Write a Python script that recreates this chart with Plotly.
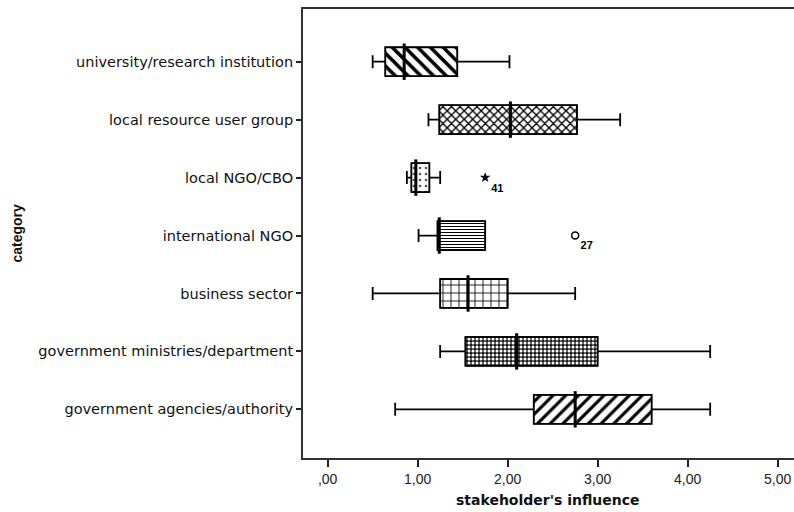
import plotly.graph_objects as go

# Categories from bottom to top
categories = [
    "government agencies/authority",
    "government ministries/department",
    "business sector",
    "international NGO",
    "local NGO/CBO",
    "local resource user group",
    "university/research institution",
]
lower_whisker = [0.75, 1.25, 0.50, 1.01, 0.88, 1.12, 0.50]
q1_values     = [2.29, 1.53, 1.25, 1.22, 0.93, 1.24, 0.64]
median_values = [2.75, 2.10, 1.56, 1.24, 0.98, 2.03, 0.85]
q3_values     = [3.60, 3.00, 2.00, 1.75, 1.13, 2.77, 1.44]
upper_whisker = [4.25, 4.25, 2.75, 1.75, 1.25, 3.25, 2.02]

# Outliers
star_outlier_cat = ["local NGO/CBO"]
star_outlier_val = [1.75]
star_outlier_lbl = ["41"]
circ_outlier_cat = ["international NGO"]
circ_outlier_val = [2.75]
circ_outlier_lbl = ["27"]

x_tick_vals = [0, 1, 2, 3, 4, 5]
x_tick_text = [",00", "1,00", "2,00", "3,00", "4,00", "5,00"]

# Fill patterns (style)
pat_shape = ["/", ".", "+", "-", ".", "x", "\\"]
pat_fg = ["black", "white", "black", "black", "#555555", "black", "black"]
pat_bg = ["white", "#1a1a1a", "white", "white", "white", "white", "white"]
pat_size = [9, 4, 8, 3, 6, 6, 9]
pat_sol = [0.35, 0.45, 0.2, 0.35, 0.15, 0.4, 0.4]

pos = list(range(len(categories)))
cat_index = {c: i for i, c in enumerate(categories)}

fig = go.Figure()

fig.add_trace(go.Bar(
    y=pos,
    x=[b - a for a, b in zip(q1_values, q3_values)],
    base=q1_values,
    orientation="h",
    width=0.5,
    marker=dict(
        color="white",
        line=dict(color="black", width=1),
        pattern=dict(shape=pat_shape, fgcolor=pat_fg, bgcolor=pat_bg,
                     size=pat_size, solidity=pat_sol, fillmode="replace"),
    ),
    hoverinfo="skip",
    showlegend=False,
))

fig.add_trace(go.Box(
    y=pos,
    q1=q1_values,
    median=median_values,
    q3=q3_values,
    lowerfence=lower_whisker,
    upperfence=upper_whisker,
    orientation="h",
    width=0.5,
    whiskerwidth=0.45,
    line=dict(color="black", width=1.8),
    fillcolor="rgba(0,0,0,0)",
    boxpoints=False,
    showlegend=False,
))

fig.add_trace(go.Scatter(
    x=median_values,
    y=pos,
    mode="markers",
    marker=dict(symbol="line-ns", size=26, line=dict(color="black", width=3)),
    hoverinfo="skip",
    showlegend=False,
))

fig.add_trace(go.Scatter(
    x=star_outlier_val,
    y=[cat_index[c] for c in star_outlier_cat],
    mode="markers+text",
    marker=dict(symbol="star", size=8, color="black"),
    text=star_outlier_lbl,
    textposition="bottom right",
    textfont=dict(family="Liberation Sans", size=11, color="black", weight="bold"),
    showlegend=False,
))

fig.add_trace(go.Scatter(
    x=circ_outlier_val,
    y=[cat_index[c] for c in circ_outlier_cat],
    mode="markers+text",
    marker=dict(symbol="circle-open", size=7, color="black", line=dict(width=1.5)),
    text=circ_outlier_lbl,
    textposition="bottom right",
    textfont=dict(family="Liberation Sans", size=11, color="black", weight="bold"),
    showlegend=False,
))

# figure is a little wider than the window so the plot's right edge falls outside it
fig.update_layout(
    width=800,
    height=512,
    margin=dict(l=303, r=0, t=9, b=54),
    paper_bgcolor="white",
    plot_bgcolor="white",
    showlegend=False,
    xaxis=dict(
        range=[-0.274, 5.248],
        tickvals=x_tick_vals,
        ticktext=x_tick_text,
        ticks="outside",
        ticklen=7,
        tickwidth=2,
        tickcolor="#222222",
        showgrid=False,
        zeroline=False,
        showline=True,
        linewidth=2,
        linecolor="#333333",
        mirror=True,
        tickfont=dict(family="Liberation Sans", size=14, color="#222222"),
    ),
    yaxis=dict(
        range=[-0.84, 6.91],
        tickvals=pos,
        ticktext=categories,
        ticks="outside",
        ticklen=5,
        tickwidth=2,
        tickcolor="#222222",
        showgrid=False,
        zeroline=False,
        showline=True,
        mirror=False,
        linewidth=2,
        linecolor="#333333",
        tickfont=dict(family="DejaVu Sans", size=14.5, color="#111111"),
    ),
    annotations=[
        dict(text="stakeholder's influence", xref="paper", yref="paper",
             x=(548 - 303) / 497, y=-0.093, yanchor="middle", xanchor="center",
             showarrow=False,
             font=dict(family="DejaVu Sans", size=14, color="#111111", weight="bold")),
        dict(text="category", xref="paper", yref="paper",
             x=(16 - 303) / 497, y=0.5, textangle=-90, xanchor="center",
             yanchor="middle", showarrow=False,
             font=dict(family="Liberation Sans Narrow, Liberation Sans", size=14,
                       color="#111111", weight="bold")),
    ],
)

fig.write_html(
    "out.html",
    config={"displayModeBar": False},
    post_script="document.body.style.margin='0px';document.body.style.overflow='hidden';",
)
